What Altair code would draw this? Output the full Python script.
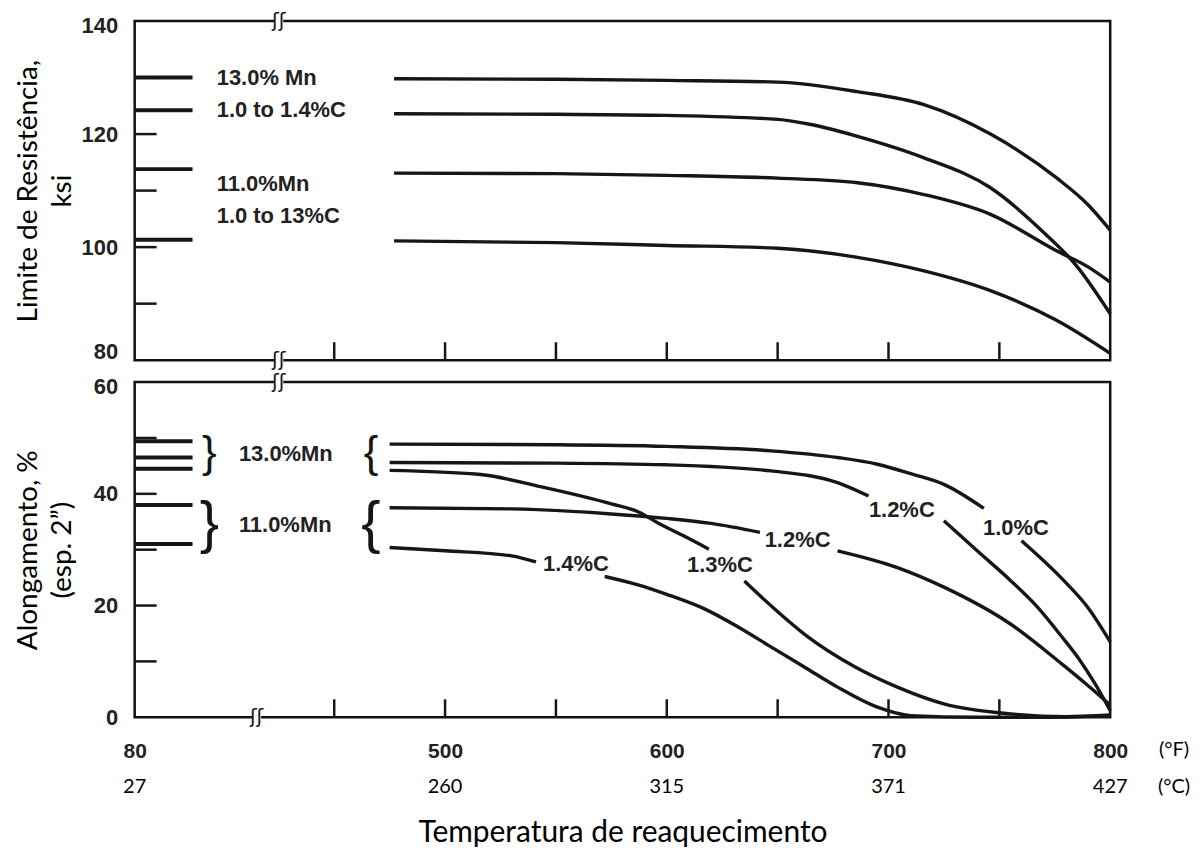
import altair as alt
import pandas as pd

# ---------------- data ----------------
X_LEFT = 360      # left edge of the broken temperature axis (labelled 80 °F)
X_RIGHT = 800

f_label_pos = [360, 500, 600, 700, 800]
f_labels = ["80", "500", "600", "700", "800"]
c_labels = ["27", "260", "315", "371", "427"]
x_minor = [450, 500, 550, 600, 650, 700, 750]
break_pos = [425]
low_break_pos = [415]

# top panel: Limite de Resistência (ksi)
ts1_F = [477, 550, 600, 650, 686, 716, 746, 776, 790, 800]
ts1_v = [129.8, 129.7, 129.5, 129.2, 127.5, 125.2, 120.0, 112.2, 107.5, 103.0]
ts2_F = [477, 550, 600, 650, 665, 686, 716, 746, 770, 785, 800]
ts2_v = [123.6, 123.5, 123.3, 122.6, 121.7, 119.6, 115.8, 110.5, 102.6, 96.6, 88.2]
ts3_F = [477, 550, 600, 650, 686, 716, 746, 776, 790, 800]
ts3_v = [113.1, 113.0, 112.7, 112.2, 111.4, 109.3, 105.8, 99.3, 96.5, 93.8]
ts4_F = [477, 550, 600, 650, 686, 716, 746, 776, 800]
ts4_v = [101.1, 100.8, 100.3, 99.8, 98.2, 95.8, 92.3, 87.0, 81.2]
ts_room = [130.0, 124.2, 113.8, 101.3]          # as-quenched values (80 °F)
ts_minor = [90, 100, 110, 120, 130]
ts_major = [80, 100, 120, 140]
ts_notes = ["13.0% Mn", "1.0 to 1.4%C", "11.0%Mn", "1.0 to 13%C"]
ts_notes_F = [397, 397, 397, 397]
ts_notes_v = [130.0, 124.2, 111.1, 105.5]

# bottom panel: Alongamento (%)  (None = gap where a label sits)
el10_F = [475, 550, 600, 647, 677, 695, 710, 725, 743, None, 760, 779, 790, 800]
el10_v = [48.9, 48.8, 48.5, 47.7, 46.5, 45.3, 43.6, 41.7, 37.4, None, 31.6, 24.5, 19.6, 13.5]
el12a_F = [475, 550, 600, 647, 677, 691, None, 725, 740, 755, 767, 778, 786, 793, 800]
el12a_v = [45.6, 45.5, 45.2, 44.1, 42.0, 39.6, None, 35.2, 29.8, 24.5, 19.8, 14.5, 10.4, 6.1, 1.2]
el13_F = [475, 515, 545, 575, 587, 596, 608, 619, None, 635, 648, 662, 685, 704, 725, 755, 780, 800]
el13_v = [44.2, 43.5, 41.1, 38.2, 36.8, 34.8, 32.4, 30.1, None, 24.4, 19.6, 14.9, 9.0, 5.4, 2.4, 0.6, 0.1, 0.4]
el12b_F = [475, 530, 575, 600, 620, 642, None, 677, 704, 725, 755, 778, 789, 800]
el12b_v = [37.5, 37.3, 36.4, 35.6, 34.7, 33.1, None, 29.8, 26.8, 23.3, 16.7, 9.6, 6.0, 2.2]
el14_F = [475, 500, 530, 541, None, 572, 587, 600, 617, 632, 647, 662, 677, 695, 710, 740, 770, 800]
el14_v = [30.4, 29.8, 28.9, 27.8, None, 25.2, 23.7, 22.0, 19.4, 16.2, 12.6, 9.0, 5.4, 1.8, 0.3, 0.0, 0.0, 0.3]
el_room = [49.4, 46.5, 44.5, 38.0, 31.0]
el_minor = [10, 20, 30, 40, 50]
el_major = [0, 20, 40, 60]
el_group = ["13.0%Mn", "11.0%Mn"]
el_group_F = [407, 407]
el_group_v = [47.1, 34.4]
el_brace_close_F = [393.7, 393.7]
el_brace_open_F = [466.6, 466.6]
el_brace_v = [47.1, 34.5]
el_brace_size = [44, 58]
el_curve_labels = ["1.4%C", "1.3%C", "1.2%C", "1.2%C", "1.0%C"]
el_curve_labels_F = [559, 624, 659, 706, 757.5]
el_curve_labels_v = [27.4, 27.3, 31.8, 37.1, 33.9]

# ---------------- helpers ----------------
def build_lines(series):
    rows = []
    for name, Fs, vs in series:
        seg = 0
        for f, v in zip(Fs, vs):
            if v is None:
                seg += 1
                continue
            rows.append({"F": f, "v": v, "seg": f"{name}-{seg}"})
    return pd.DataFrame(rows)


W = 978
H_TOP = 340
H_BOT = 336
INK = "#161616"
TXT = "#222222"

xs = alt.Scale(domain=[X_LEFT, X_RIGHT], nice=False, zero=False)
ys_top = alt.Scale(domain=[80, 140], nice=False, zero=False)
ys_bot = alt.Scale(domain=[0, 60], nice=False, zero=False)

label_shift = {
    "condition": [
        {"test": "datum.value == 80", "value": -9},
        {"test": "datum.value == 140 || datum.value == 60", "value": 4},
    ],
    "value": 0,
}

y_axis_style = dict(
    ticks=False, tickSize=0, domain=False, grid=False,
    labelFont="Liberation Sans", labelFontWeight="bold", labelFontSize=22,
    labelColor=TXT, labelPadding=17, labelOffset=label_shift,
    titleFont="Lato", titleFontSize=28, titleFontWeight="normal", titleColor="#000",
    titlePadding=6, titleLineHeight=34, minExtent=52, maxExtent=52,
)

label_expr = "".join(f"datum.value == {p} ? '{l}' : " for p, l in zip(f_label_pos, f_labels)) + "''"


def panel(lines_df, room, minor, Y, H, X):
    lines = alt.Chart(lines_df).mark_line(
        color=INK, strokeWidth=3.4, interpolate="monotone"
    ).encode(x=X, y=Y, detail="seg:N")
    stubs = alt.Chart(pd.DataFrame({"v": room})).mark_rule(
        color=INK, strokeWidth=4
    ).encode(y=Y, x=alt.value(0), x2=alt.value(58))
    yt = alt.Chart(pd.DataFrame({"v": minor})).mark_rule(
        color=INK, strokeWidth=2.5
    ).encode(y=Y, x=alt.value(0), x2=alt.value(22))
    xt = alt.Chart(pd.DataFrame({"F": x_minor})).mark_rule(
        color=INK, strokeWidth=2.5
    ).encode(x=X, y=alt.value(H), y2=alt.value(H - 18))
    return [lines, stubs, yt, xt]


def breaks(X, pos, ys):
    out = []
    for yy in ys:
        gap = alt.Chart(pd.DataFrame({"F": pos})).mark_tick(
            color="white", thickness=9, size=10, opacity=1
        ).encode(x=X, y=alt.value(yy))
        sl = alt.Chart(pd.DataFrame({"F": pos})).mark_text(
            font="DejaVu Sans", fontSize=20, color=INK, baseline="middle", align="center"
        ).encode(x=X, y=alt.value(yy), text=alt.value("\u0283\u0283"))
        out += [gap, sl]
    return out


# ---------------- top panel ----------------
X_top = alt.X("F:Q", scale=xs, axis=None)
Y_top = alt.Y("v:Q", scale=ys_top,
              axis=alt.Axis(values=ts_major, title=["Limite de Resistência,", "ksi"], **y_axis_style))

top_lines = build_lines([("a", ts1_F, ts1_v), ("b", ts2_F, ts2_v),
                         ("c", ts3_F, ts3_v), ("d", ts4_F, ts4_v)])
top_notes = alt.Chart(pd.DataFrame({"F": ts_notes_F, "v": ts_notes_v, "t": ts_notes})).mark_text(
    align="left", baseline="middle", font="Liberation Sans", fontWeight="bold",
    fontSize=22, color=TXT
).encode(x=X_top, y=Y_top, text="t:N")

top = alt.layer(
    *panel(top_lines, ts_room, ts_minor, Y_top, H_TOP, X_top),
    top_notes, *breaks(X_top, break_pos, [0, H_TOP])
).properties(width=W, height=H_TOP)

# ---------------- bottom panel ----------------
X_bot = alt.X("F:Q", scale=xs, axis=alt.Axis(
    values=f_label_pos, labelExpr=label_expr, labelFlush=False,
    ticks=False, tickSize=0, domain=False, grid=False,
    labelFont="Liberation Sans", labelFontWeight="bold", labelFontSize=21,
    labelColor=TXT, labelPadding=23,
    title="Temperatura de reaquecimento", titleFont="Lato", titleFontSize=30,
    titleFontWeight="normal", titleColor="#000", titlePadding=57,
))
Y_bot = alt.Y("v:Q", scale=ys_bot,
              axis=alt.Axis(values=el_major, title=["Alongamento, %", "(esp. 2\u201d)"], **y_axis_style))

bot_lines = build_lines([("c10", el10_F, el10_v), ("c12a", el12a_F, el12a_v),
                         ("c13", el13_F, el13_v), ("c12b", el12b_F, el12b_v),
                         ("c14", el14_F, el14_v)])

bold_text = dict(font="Liberation Sans", fontWeight="bold", fontSize=22, color=TXT, baseline="middle")
group_notes = alt.Chart(pd.DataFrame({"F": el_group_F, "v": el_group_v, "t": el_group})).mark_text(
    align="left", **bold_text).encode(x=X_bot, y=Y_bot, text="t:N")
curve_notes = alt.Chart(pd.DataFrame({"F": el_curve_labels_F, "v": el_curve_labels_v, "t": el_curve_labels})).mark_text(
    align="center", **bold_text).encode(x=X_bot, y=Y_bot, text="t:N")

brace_layers = []
for Fs, ch in [(el_brace_close_F, "}"), (el_brace_open_F, "{")]:
    for f, v, s in zip(Fs, el_brace_v, el_brace_size):
        brace_layers.append(
            alt.Chart(pd.DataFrame({"F": [f], "v": [v], "t": [ch]})).mark_text(
                align="center", baseline="middle", font="Liberation Sans",
                fontSize=s, color=INK
            ).encode(x=X_bot, y=Y_bot, text="t:N")
        )

c_row = alt.Chart(pd.DataFrame({"F": f_label_pos, "t": c_labels})).mark_text(
    align="center", baseline="middle", font="Lato", fontSize=20, color="#000"
).encode(x=X_bot, y=alt.value(H_BOT + 70), text="t:N")
unit_f = alt.Chart(pd.DataFrame({"t": ["(°F)"]})).mark_text(
    align="center", baseline="middle", font="Lato", fontSize=20, color="#000"
).encode(x=alt.value(W + 64), y=alt.value(H_BOT + 33), text="t:N")
unit_c = alt.Chart(pd.DataFrame({"t": ["(°C)"]})).mark_text(
    align="center", baseline="middle", font="Lato", fontSize=20, color="#000"
).encode(x=alt.value(W + 64), y=alt.value(H_BOT + 70), text="t:N")

bottom = alt.layer(
    *panel(bot_lines, el_room, el_minor, Y_bot, H_BOT, X_bot),
    group_notes, curve_notes, *brace_layers, c_row, unit_f, unit_c,
    *breaks(X_bot, break_pos, [0]), *breaks(X_bot, low_break_pos, [H_BOT])
).properties(width=W, height=H_BOT)

chart = alt.vconcat(top, bottom, spacing=22).properties(
    bounds="flush", padding={"left": 5, "top": 0, "right": 0, "bottom": 0}
).configure_view(stroke="#111111", strokeWidth=2.5)

chart.save("out.html", embed_options={"renderer": "svg", "actions": False})
